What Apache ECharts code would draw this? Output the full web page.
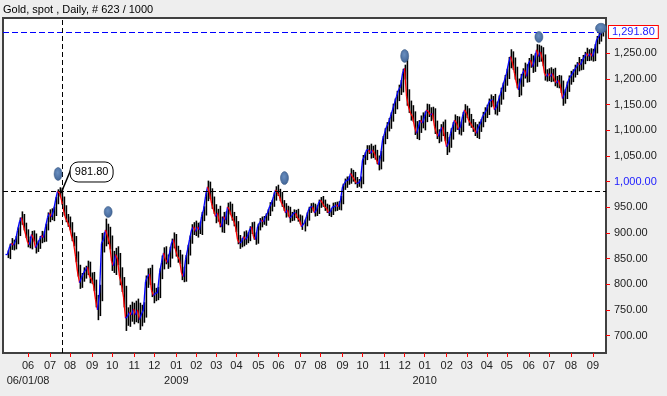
<!DOCTYPE html>
<html><head><meta charset="utf-8">
<script src="https://cdn.jsdelivr.net/npm/echarts@6/dist/echarts.min.js"></script>
<style>html,body{margin:0;padding:0;background:#eeeeee;}#c{width:667px;height:396px;}</style>
</head><body><div id="c"></div>
<script>
const closes = [
858,873,880,876,885,905,922,930,914,898,
882,877,897,889,871,879,887,895,891,912,
930,939,931,943,964,981,978,964,945,929,
921,912,894,882,854,824,803,813,822,828,
834,815,810,798,770,750,783,880,887,906,
894,880,845,836,858,849,815,800,775,734,
737,746,740,752,740,750,731,742,750,805,
815,820,788,778,783,783,822,842,861,848,
842,861,880,887,867,854,848,822,815,848,
867,887,906,912,903,912,906,932,945,971,
990,978,958,945,932,939,920,912,932,925,
951,945,932,925,912,887,880,883,893,887,
893,906,912,893,887,912,920,925,922,932,
939,951,958,971,984,978,971,958,951,939,
945,929,932,939,939,929,925,912,920,932,
945,951,951,939,945,958,964,958,951,948,
939,942,951,951,955,951,964,990,997,1003,
1003,1016,1010,1003,997,997,1003,1042,1049,1062,
1062,1055,1062,1055,1042,1033,1049,1081,1094,1107,
1114,1127,1140,1153,1166,1179,1185,1211,1221,1166,
1146,1133,1127,1107,1094,1107,1120,1114,1127,1140,
1136,1130,1133,1107,1094,1088,1101,1107,1088,1068,
1075,1094,1107,1120,1114,1101,1107,1127,1140,1133,
1120,1114,1107,1101,1094,1107,1114,1127,1133,1140,
1153,1159,1159,1140,1146,1159,1172,1185,1198,1211,
1231,1244,1231,1211,1192,1179,1198,1211,1218,1205,
1231,1237,1224,1237,1257,1244,1253,1237,1211,1205,
1211,1205,1211,1198,1192,1198,1185,1162,1172,1185,
1198,1205,1211,1218,1224,1231,1228,1237,1244,1250,
1244,1250,1244,1257,1276,1282,1289,1292
];
// How far each bar's high reaches above its body, and low below it
const wickUp = [
8,6,10,7,9,6,8,12,7,6, 9,11,7,8,10,6,7,9,8,6, 10,7,9,8,6,4,8,10,7,9,
8,11,9,7,12,10,14,9,11,8, 12,10,8,14,11,9,16,20,14,22, 12,18,15,20,13,16,12,18,14,22,
18,14,20,12,16,22,14,18,15,12, 16,12,18,14,10,12,9,14,11,13, 10,12,9,14,11,8,13,10,12,9,
10,8,11,9,12,8,10,9,7,8, 12,10,9,13,11,8,14,12,9,10, 8,10,12,9,8,11,9,7,10,12,
8,7,9,10,8,6,9,7,8,6, 7,9,6,8,7,10,8,9,6,7, 8,6,9,7,6,8,7,9,6,8,
6,7,8,6,9,7,6,8,7,6, 7,6,8,9,6,7,8,6,9,7, 8,10,7,9,6,8,7,10,8,9,
9,12,8,10,7,9,11,8,10,9, 10,8,12,9,11,10,13,9,7,20, 14,12,16,10,11,13,9,15,10,12,
11,9,13,10,12,8,11,10,14,9, 12,10,9,11,8,13,10,9,11,8, 10,12,8,9,11,10,8,9,12,10,
9,11,8,12,10,9,11,8,10,9, 12,14,10,11,13,9,12,10,14,11, 10,12,9,13,11,10,12,9,11,8,
10,12,9,11,8,10,9,12,8,10, 9,11,8,10,9,12,8,10,9,11, 8,10,9,11,8,9,7,6
];
const wickDown = [
7,9,6,10,8,7,11,6,9,8, 10,7,9,6,11,8,10,7,9,8, 7,9,6,8,10,8,7,9,11,8,
9,7,10,8,11,9,12,10,8,11, 10,13,9,11,15,20,12,16,18,13, 16,12,19,14,18,12,17,15,20,25,
15,20,13,18,14,16,20,13,17,15, 12,16,13,15,11,14,10,12,13,9, 12,9,11,10,13,12,9,14,11,10,
9,11,8,10,9,12,8,10,9,11, 9,12,11,8,13,10,9,11,12,8, 10,9,8,12,10,9,11,8,9,10,
7,9,8,6,10,8,7,9,6,8, 8,6,9,7,8,6,9,7,8,9, 7,9,6,8,10,7,8,6,9,7,
8,6,9,7,6,8,9,7,8,9, 6,8,7,9,8,6,7,8,6,9, 9,7,10,8,9,7,10,8,9,7,
8,10,9,12,8,11,9,10,8,11, 9,11,10,8,12,9,10,11,12,18, 12,14,10,16,11,13,12,10,14,11,
10,12,9,14,11,13,10,12,9,16, 11,9,12,10,13,9,11,10,12,9, 11,9,10,12,9,11,10,8,11,9,
10,8,12,9,11,10,9,12,10,11, 11,10,13,12,10,14,11,13,10,12, 11,9,12,10,13,11,10,12,14,10,
9,11,10,12,9,10,12,14,10,11, 10,9,11,8,10,9,11,10,8,9, 9,8,10,9,7,8,9,6
];
const yTicks = [700,750,800,850,900,950,1000,1050,1100,1150,1200,1250];
const highlightTick = 1000;
const lastPrice = 1291.80;
const crossPrice = 981.80;
const crossBar = 27;            // bar index where the cross-hair sits
const firstDateLabel = '06/01/08';
const titleText = 'Gold, spot , Daily, # 623 / 1000';
// event markers: [bar index, price level]
const markerBars = [25, 50, 138, 198, 265, 296];
const markerPrices = [1015, 941, 1007, 1245, 1282, 1299];

// ---- build ----
const PAD_START = 2, PAD_END = 1;
const startMs = Date.UTC(2008, 4, 3, 0);
const stepMs = 2.924 * 86400000;
const categories = [];
for (let k = 0; k < closes.length + PAD_START + PAD_END; k++) {
  const d = new Date(startMs + (k - PAD_START) * stepMs);
  categories.push(d.getUTCFullYear() + '-' + String(d.getUTCMonth() + 1).padStart(2, '0') + '-' + String(d.getUTCDate()).padStart(2, '0'));
}
function monthOf(s) { return s.slice(0, 7); }
function showTick(index) {
  if (index <= PAD_START) return false;
  return monthOf(categories[index]) !== monthOf(categories[index - 1]);
}
let firstLabelIdx = -1;
for (let k = 1; k < categories.length; k++) { if (showTick(k)) { firstLabelIdx = k; break; } }
function showSecond(index) {
  return showTick(index) && (index === firstLabelIdx || categories[index].slice(5, 7) === '01');
}
function fmtMonth(value) { return value.slice(5, 7); }
function fmtSecond(value) {
  return categories.indexOf(value) === firstLabelIdx ? firstDateLabel : value.slice(0, 4);
}
function fmt(v) {
  const s = Number(v).toFixed(2); const p = s.split('.');
  return p[0].replace(/\B(?=(\d{3})+(?!\d))/g, ',') + '.' + p[1];
}
const bars = closes.map((c, i) => {
  const o = i > 0 ? closes[i - 1] : c;
  return [i + PAD_START, o, c, Math.min(o, c) - wickDown[i], Math.max(o, c) + wickUp[i]];
});
const FONT = '"Liberation Sans", Arial, sans-serif';

function renderItem(params, api) {
  const k = api.value(0), o = api.value(1), c = api.value(2), lo = api.value(3), hi = api.value(4);
  const pc = api.coord([k, c]);
  const pp = api.coord([Math.max(k - 1, 0), o]);
  const pl = api.coord([k, lo]);
  const ph = api.coord([k, hi]);
  const xc = Math.round(pc[0]);
  return {
    type: 'group',
    children: [
      { type: 'line', shape: { x1: xc + 0.4, y1: ph[1], x2: xc + 0.4, y2: pl[1] }, style: { stroke: '#000', lineWidth: 1.6 } },
      { type: 'line', shape: { x1: Math.round(pp[0]) - 0.5, y1: pp[1], x2: xc - 0.5, y2: pc[1] }, style: { stroke: c >= o ? '#0000ff' : '#ff0000', lineWidth: 1.3 } }
    ]
  };
}

const chart = echarts.init(document.getElementById('c'), null, { renderer: 'canvas' });
const dash = { color: '#000', type: [5, 3], width: 1 };
const labelBase = { color: '#222', fontSize: 11, lineHeight: 15, margin: 5, fontFamily: FONT };
chart.setOption({
  animation: false,
  backgroundColor: '#eeeeee',
  textStyle: { fontFamily: FONT },
  title: { text: titleText, left: 3, top: 4, padding: 0, textStyle: { fontSize: 11, fontWeight: 'normal', color: '#000', fontFamily: FONT } },
  grid: { left: 3, top: 18, right: 61, bottom: 43, show: true, backgroundColor: '#ffffff', borderColor: '#404040', borderWidth: 2 },
  xAxis: [{
    type: 'category', data: categories, boundaryGap: true,
    axisLine: { show: false },
    axisTick: { show: true, interval: showTick, alignWithLabel: true, length: 4, lineStyle: { color: '#ff0000' } },
    axisLabel: Object.assign({ interval: showTick, formatter: fmtMonth }, labelBase),
    splitLine: { show: false }
  }, {
    type: 'category', data: categories, boundaryGap: true, position: 'bottom', offset: 15,
    axisLine: { show: false }, axisTick: { show: false }, splitLine: { show: false },
    axisLabel: Object.assign({ interval: showSecond, formatter: fmtSecond }, labelBase)
  }],
  yAxis: {
    type: 'value', position: 'right', min: 666, max: 1319,
    splitLine: { show: false }, axisLine: { show: false },
    axisTick: { show: true, customValues: yTicks, length: 4, lineStyle: { color: '#ff0000' } },
    axisLabel: { customValues: yTicks, formatter: v => fmt(v), color: v => (Number(v) === highlightTick ? '#1a1aff' : '#222'), fontSize: 11, margin: 8, fontFamily: FONT }
  },
  series: [{
    type: 'custom', renderItem: renderItem, data: bars, clip: true, xAxisIndex: 0,
    encode: { x: 0, y: [1, 2, 3, 4] },
    markLine: {
      silent: true, symbol: 'none', animation: false,
      data: [
        { yAxis: lastPrice, lineStyle: { color: '#0000ff', type: [6, 3], width: 1 },
          label: { show: true, position: 'end', formatter: fmt(lastPrice), color: '#1a1aff', borderColor: '#ff0000', borderWidth: 1, backgroundColor: '#ffffff', padding: [1, 3, 0, 3], fontSize: 11, distance: 3, fontFamily: FONT } },
        { yAxis: crossPrice, lineStyle: dash, label: { show: false } },
        { xAxis: categories[crossBar + PAD_START], lineStyle: dash, label: { show: false } }
      ]
    },
    markPoint: {
      silent: true, symbol: 'circle', animation: false,
      label: { show: false },
      itemStyle: { color: { type: 'radial', x: 0.45, y: 0.4, r: 0.7, colorStops: [{ offset: 0, color: '#6a8fc0' }, { offset: 1, color: '#3a5d8f' }] }, borderColor: '#34557f', borderWidth: 0.5 },
      data: markerBars.map((b, j) => ({ coord: [categories[b + PAD_START], markerPrices[j]], symbolSize: j === markerBars.length - 1 ? [11, 10] : (j === 1 || j === 4 ? [8, 11] : [8, 13]) }))
    }
  }]
});

const P = chart.convertToPixel({ xAxisIndex: 0, yAxisIndex: 0 }, [categories[crossBar + PAD_START], crossPrice]);
chart.setOption({
  graphic: [
    { type: 'line', shape: { x1: P[0] - 1, y1: P[1] + 2, x2: P[0] + 9, y2: P[1] - 22 }, style: { stroke: '#000', lineWidth: 1.5 }, z: 100 },
    { type: 'rect', shape: { x: P[0] + 8, y: P[1] - 29, width: 43, height: 20, r: 8 }, style: { fill: '#fff', stroke: '#000', lineWidth: 1 }, z: 101 },
    { type: 'text', x: P[0] + 29.5, y: P[1] - 19, style: { text: fmt(crossPrice), fill: '#000', font: '11px ' + FONT, align: 'center', verticalAlign: 'middle' }, z: 102 }
  ]
});
</script></body></html>
